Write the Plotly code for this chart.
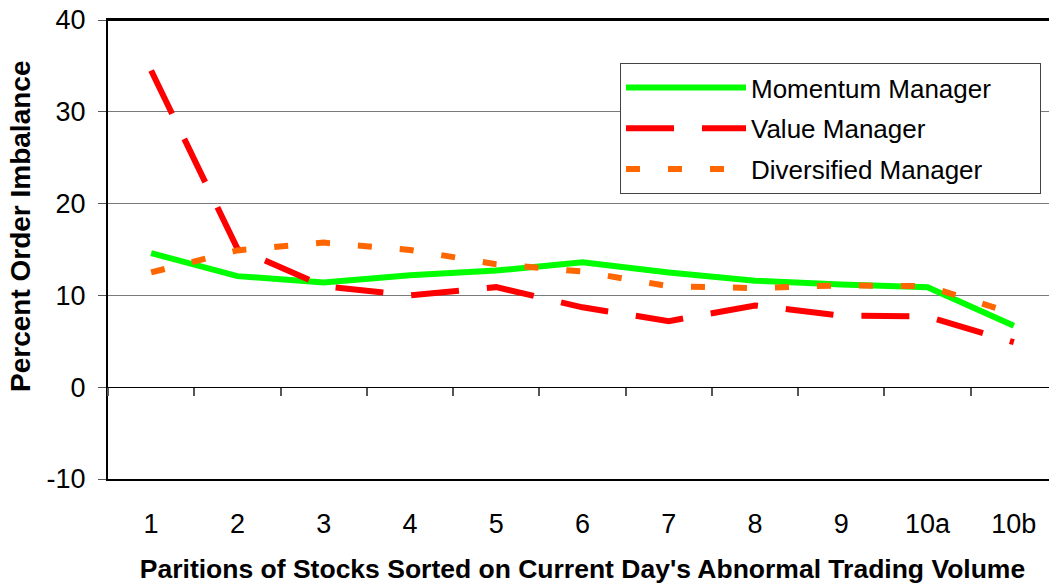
import plotly.graph_objects as go

categories = ["1", "2", "3", "4", "5", "6", "7", "8", "9", "10a", "10b"]
momentum = [14.6, 12.1, 11.4, 12.2, 12.7, 13.6, 12.5, 11.6, 11.2, 10.9, 6.7]
value = [34.5, 15.1, 11.0, 10.0, 10.9, 8.7, 7.2, 8.9, 7.8, 7.7, 4.9]
diversified = [12.5, 14.9, 15.75, 14.95, 13.4, 12.6, 11.0, 10.8, 11.1, 11.0, 8.0]
y_ticks = [-10, 0, 10, 20, 30, 40]
y_tick_labels = ["-10", "0", "10", "20", "30", "40"]

FONT = "Arial, Liberation Sans, sans-serif"
PAD = "\u00a0" * 6

fig = go.Figure()
fig.add_trace(go.Scatter(x=categories, y=momentum, mode="lines", name="Momentum Manager" + PAD,
                         line=dict(color="#00FF00", width=6), legendgroup="a"))
fig.add_trace(go.Scatter(x=categories, y=value, mode="lines", name="Value Manager",
                         line=dict(color="#FF0000", width=6, dash="48px,28px"), legendgroup="b"))
fig.add_trace(go.Scatter(x=categories, y=diversified, mode="lines", name="Diversified Manager",
                         line=dict(color="#FF6600", width=6, dash="14px,28px"), legendgroup="c"))
# invisible trace to create the zero-line category axis with boundary ticks
fig.add_trace(go.Scatter(x=categories, y=momentum, mode="lines", xaxis="x2",
                         line=dict(color="rgba(0,0,0,0)", width=0), showlegend=False,
                         hoverinfo="skip"))

# top border of the plot area
fig.add_shape(type="line", xref="paper", yref="paper", x0=0, x1=1, y0=1, y1=1,
              line=dict(color="black", width=2))

# y-axis title (placed as in the reference, slightly above the axis centre)
fig.add_annotation(text="<b>Percent Order Imbalance</b>", xref="paper", yref="paper",
                   x=(21 - 108) / 949, y=(479 - 227) / 459, xanchor="center", yanchor="middle",
                   textangle=-90, showarrow=False, borderpad=0,
                   font=dict(size=28, family=FONT, color="black"))

fig.update_layout(
    width=1049, height=576,
    margin=dict(l=100, r=0, t=12, b=105),
    paper_bgcolor="white", plot_bgcolor="white",
    font=dict(family=FONT, color="black"),
    showlegend=True,
    legend=dict(
        x=(620 - 108) / 949, y=(479 - 63) / 459, xanchor="left", yanchor="top",
        bgcolor="white", bordercolor="#444444", borderwidth=1,
        font=dict(size=26, family=FONT, color="black"),
        itemwidth=120, tracegroupgap=4, traceorder="grouped",
    ),
    xaxis=dict(
        type="category", categoryarray=categories, range=[-0.5, 10.5],
        showline=True, linecolor="black", linewidth=2, mirror=True,
        ticks="", showgrid=False, zeroline=False, automargin=False,
        tickfont=dict(size=27, family=FONT, color="black"),
        ticklabelstandoff=20,
        title=dict(text="<b>Paritions of Stocks Sorted on Current Day's Abnormal Trading Volume</b>",
                   font=dict(size=26.5, family=FONT, color="black"), standoff=32),
    ),
    xaxis2=dict(
        type="category", categoryarray=categories, range=[-0.5, 10.5],
        overlaying="x", anchor="free", position=0.2,
        showline=True, linecolor="black", linewidth=1,
        ticks="outside", ticklen=8, tickcolor="#555555", tickwidth=2,
        tickson="boundaries", showticklabels=False, showgrid=False, zeroline=False,
        automargin=False,
    ),
    yaxis=dict(
        range=[-10, 40], tickvals=y_ticks, ticktext=y_tick_labels,
        showline=True, linecolor="black", linewidth=2,
        ticks="outside", ticklen=8, tickcolor="#555555",
        showgrid=True, gridcolor="#7a7a7a", gridwidth=1,
        zeroline=False, automargin=False, ticklabeloverflow="allow",
        tickfont=dict(size=27, family=FONT, color="black"),
        ticklabelstandoff=7,
    ),
)

fig.write_html("out.html")
